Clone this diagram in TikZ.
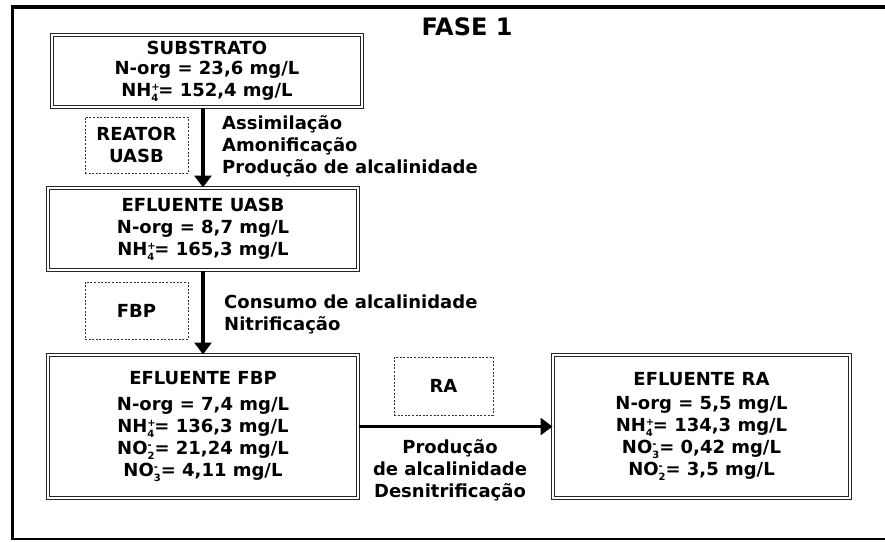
\documentclass[tikz,border=0pt]{standalone}
\usepackage{fontspec}
\setmainfont{DejaVu Sans}
\usetikzlibrary{arrows.meta}
\newcommand\chemion[2]{\makebox[0pt][l]{\raisebox{0.62ex}{\fontsize{10}{10}\selectfont #2}}\raisebox{-0.5ex}{\fontsize{10}{10}\selectfont #1}}
\begin{document}
\begin{tikzpicture}[x=1pt,y=-1pt,
  every node/.style={font=\bfseries\fontsize{18}{22}\selectfont, inner sep=0pt},
  databox/.style={draw=black!85, line width=1pt, double=white, double distance=1.6pt, align=center},
  unitbox/.style={draw=black!80, line width=0.9pt, dash pattern=on 2pt off 1.6pt, align=center},
  flow/.style={line width=3.6pt, -{Triangle[width=17pt,length=12pt]}},
  lbl/.style={align=left, anchor=west}
]
\useasboundingbox (0,0) rectangle (885,541);
% frame
\draw[line width=4pt] (10.5,6.5) -- (885,6.5);
\draw[line width=3.5pt] (12.5,5) -- (12.5,539.5);
\draw[line width=2pt] (11,538.5) -- (885,538.5);
% title
\node (title) at (467,27) {\fontsize{24}{28}\selectfont FASE 1};
% data boxes
\node[databox, minimum width=310pt, minimum height=72pt] (sub) at (207,71)
  {SUBSTRATO\\[-2pt]N-org = 23,6 mg/L\\NH\chemion{4}{+}= 152,4 mg/L};
\node[databox, minimum width=310pt, minimum height=82pt] (uasb) at (203,229)
  {EFLUENTE UASB\\N-org = 8,7 mg/L\\NH\chemion{4}{+}= 165,3 mg/L};
\node[databox, minimum width=310pt, minimum height=143pt] (fbp) at (203,426.5)
  {EFLUENTE FBP\\[4pt]N-org = 7,4 mg/L\\NH\chemion{4}{+}= 136,3 mg/L\\NO\chemion{2}{-}= 21,24 mg/L\\NO\chemion{3}{-}= 4,11 mg/L};
\node[databox, minimum width=297pt, minimum height=143pt] (ra) at (701.5,426.5)
  {EFLUENTE RA\\[2pt]N-org = 5,5 mg/L\\NH\chemion{4}{+}= 134,3 mg/L\\NO\chemion{3}{-}= 0,42 mg/L\\NO\chemion{2}{-}= 3,5 mg/L};
% unit boxes
\node[unitbox, minimum width=103pt, minimum height=56pt] (ureator) at (136.5,145) {REATOR\\UASB};
\node[unitbox, minimum width=103pt, minimum height=57pt] (ufbp) at (136.5,310.5) {FBP};
\node[unitbox, minimum width=99pt, minimum height=58pt] (ura) at (443.5,386) {RA};
% arrows
\draw[flow] (sub.south -| uasb.north) -- (uasb.north);
\draw[flow] (uasb.south) -- (fbp.north);
\draw[flow] (fbp.east) -- (ra.west);
% labels
\node[lbl] (l1) at (222,146) {Assimilação\\Amonificação\\Produção de alcalinidade};
\node[lbl] (l2) at (224,314.5) {Consumo de alcalinidade\\Nitrificação};
\node[align=center] (l3) at (450,470) {Produção\\de alcalinidade\\Desnitrificação};
\end{tikzpicture}
\end{document}
